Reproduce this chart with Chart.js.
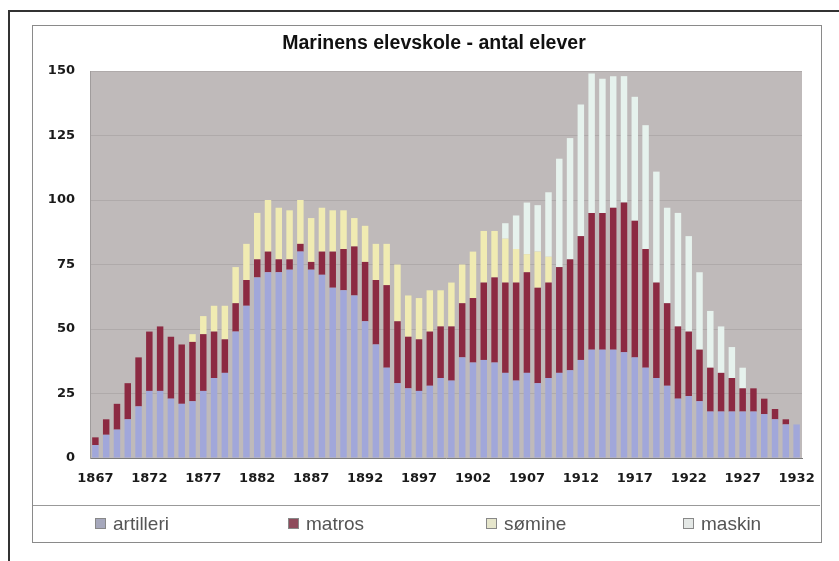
<!DOCTYPE html>
<html>
<head>
<meta charset="utf-8">
<script src="https://cdn.jsdelivr.net/npm/chart.js@4"></script>
<style>
    body { margin: 0; background: #fff; }
    #wrap { position: relative; width: 839px; height: 561px; overflow: hidden; }
    #chart { position: absolute; left: 0; top: 0; }
    .line { position: absolute; background: #333; }
    .frame { position: absolute; border: 1px solid #8a8a8a; }
    #title { position: absolute; left: 234px; width: 400px; top: 31px; text-align: center;
        font: bold 19.5px "Liberation Sans", Arial, sans-serif; color: #111; }
    .legend-item { position: absolute; top: 513px; font: 19px "Liberation Sans", Arial, sans-serif; color: #555; }
    .legend-item span { display: inline-block; width: 9px; height: 9px; border: 1px solid #888; margin-right: 7px; vertical-align: 1px; }
</style>
</head>
<body>
<div id="wrap">
    <div class="line" style="left:8px; top:10px; width:831px; height:2px;"></div>
    <div class="line" style="left:8px; top:10px; width:2px; height:551px;"></div>
    <div class="frame" style="left:32px; top:25px; width:788px; height:516px;"></div>
    <div class="line" style="left:33px; top:505px; width:787px; height:1px; background:#999;"></div>
    <canvas id="chart" width="839" height="561"></canvas>
    <div id="title">Marinens elevskole - antal elever</div>
    <div id="legend"></div>
</div>
<script>
// Data
const years = [1867, 1868, 1869, 1870, 1871, 1872, 1873, 1874, 1875, 1876,
    1877, 1878, 1879, 1880, 1881, 1882, 1883, 1884, 1885, 1886,
    1887, 1888, 1889, 1890, 1891, 1892, 1893, 1894, 1895, 1896,
    1897, 1898, 1899, 1900, 1901, 1902, 1903, 1904, 1905, 1906,
    1907, 1908, 1909, 1910, 1911, 1912, 1913, 1914, 1915, 1916,
    1917, 1918, 1919, 1920, 1921, 1922, 1923, 1924, 1925, 1926,
    1927, 1928, 1929, 1930, 1931, 1932];
const artilleri = [5, 9, 11, 15, 20, 26, 26, 23, 21, 22,
    26, 31, 33, 49, 59, 70, 72, 72, 73, 80,
    73, 71, 66, 65, 63, 53, 44, 35, 29, 27,
    26, 28, 31, 30, 39, 37, 38, 37, 33, 30,
    33, 29, 31, 33, 34, 38, 42, 42, 42, 41,
    39, 35, 31, 28, 23, 24, 22, 18, 18, 18,
    18, 18, 17, 15, 13, 13];
const matros = [3, 6, 10, 14, 19, 23, 25, 24, 23, 23,
    22, 18, 13, 11, 10, 7, 8, 5, 4, 3,
    3, 9, 14, 16, 19, 23, 25, 32, 24, 20,
    20, 21, 20, 21, 21, 25, 30, 33, 35, 38,
    39, 37, 37, 41, 43, 48, 53, 53, 55, 58,
    53, 46, 37, 32, 28, 25, 20, 17, 15, 13,
    9, 9, 6, 4, 2, 0];
const somine = [0, 0, 0, 0, 0, 0, 0, 0, 0, 3,
    7, 10, 13, 14, 14, 18, 20, 20, 19, 17,
    17, 17, 16, 15, 11, 14, 14, 16, 22, 16,
    16, 16, 14, 17, 15, 18, 20, 18, 17, 13,
    7, 14, 10, 0, 0, 0, 0, 0, 0, 0,
    0, 0, 0, 0, 0, 0, 0, 0, 0, 0,
    0, 0, 0, 0, 0, 0];
const maskin = [0, 0, 0, 0, 0, 0, 0, 0, 0, 0,
    0, 0, 0, 0, 0, 0, 0, 0, 0, 0,
    0, 0, 0, 0, 0, 0, 0, 0, 0, 0,
    0, 0, 0, 0, 0, 0, 0, 0, 6, 13,
    20, 18, 25, 42, 47, 51, 54, 52, 51, 49,
    48, 48, 43, 37, 44, 37, 30, 22, 18, 12,
    8, 0, 0, 0, 0, 0];
const xTickLabels = ['1867', '1872', '1877', '1882', '1887', '1892', '1897',
    '1902', '1907', '1912', '1917', '1922', '1927', '1932'];
const yTicks = [0, 25, 50, 75, 100, 125, 150];

const seriesNames = ['artilleri', 'matros', 'sømine', 'maskin'];
const seriesColors = ['#a1a7da', '#8c2a42', '#f0ebb2', '#e6f2ed'];
const legendColors = ['#a6a8bc', '#8e4c5c', '#e6e6cc', '#e4e8e6'];
const legendX = [95, 288, 486, 683];

// Plot background
const plotBg = {
    id: 'plotBg',
    beforeDraw(chart) {
        const a = chart.chartArea;
        const ctx = chart.ctx;
        ctx.save();
        ctx.fillStyle = '#bfbaba';
        ctx.fillRect(a.left, a.top, a.right - a.left, a.bottom - a.top);
        ctx.restore();
    }
};

const tickFont = { family: '"DejaVu Sans", Verdana, sans-serif', size: 13, weight: 'bold' };

new Chart(document.getElementById('chart'), {
    type: 'bar',
    data: {
        labels: years.map(String),
        datasets: [artilleri, matros, somine, maskin].map((d, i) => ({
            label: seriesNames[i],
            data: d,
            backgroundColor: seriesColors[i],
            borderWidth: 0,
            barPercentage: 1,
            categoryPercentage: 0.6
        }))
    },
    options: {
        responsive: false,
        animation: false,
        layout: { padding: { left: 40, right: 37, top: 71, bottom: 73 } },
        plugins: {
            legend: { display: false },
            tooltip: { enabled: false }
        },
        scales: {
            x: {
                stacked: true,
                grid: { display: false, drawTicks: false },
                border: { color: '#7c7c7c' },
                afterFit: s => { s.height = 30; },
                ticks: {
                    autoSkip: false,
                    maxRotation: 0,
                    padding: 13,
                    color: '#1a1a1a',
                    font: tickFont,
                    callback: function(v) {
                        const lab = this.getLabelForValue(v);
                        return xTickLabels.includes(lab) ? lab : '';
                    }
                }
            },
            y: {
                stacked: true,
                min: 0,
                max: 150,
                afterFit: s => { s.width = 50; },
                afterBuildTicks: s => { s.ticks = yTicks.map(v => ({ value: v })); },
                grid: { color: 'rgba(120,115,115,0.22)', drawTicks: false },
                border: { color: '#a09c9c' },
                ticks: { padding: 15, color: '#1a1a1a', font: tickFont }
            }
        }
    },
    plugins: [plotBg]
});

// Legend as real text
const legend = document.getElementById('legend');
seriesNames.forEach((name, i) => {
    const item = document.createElement('div');
    item.className = 'legend-item';
    item.style.left = legendX[i] + 'px';
    item.innerHTML = '<span style="background:' + legendColors[i] + '"></span>' + name;
    legend.appendChild(item);
});
</script>
</body>
</html>
